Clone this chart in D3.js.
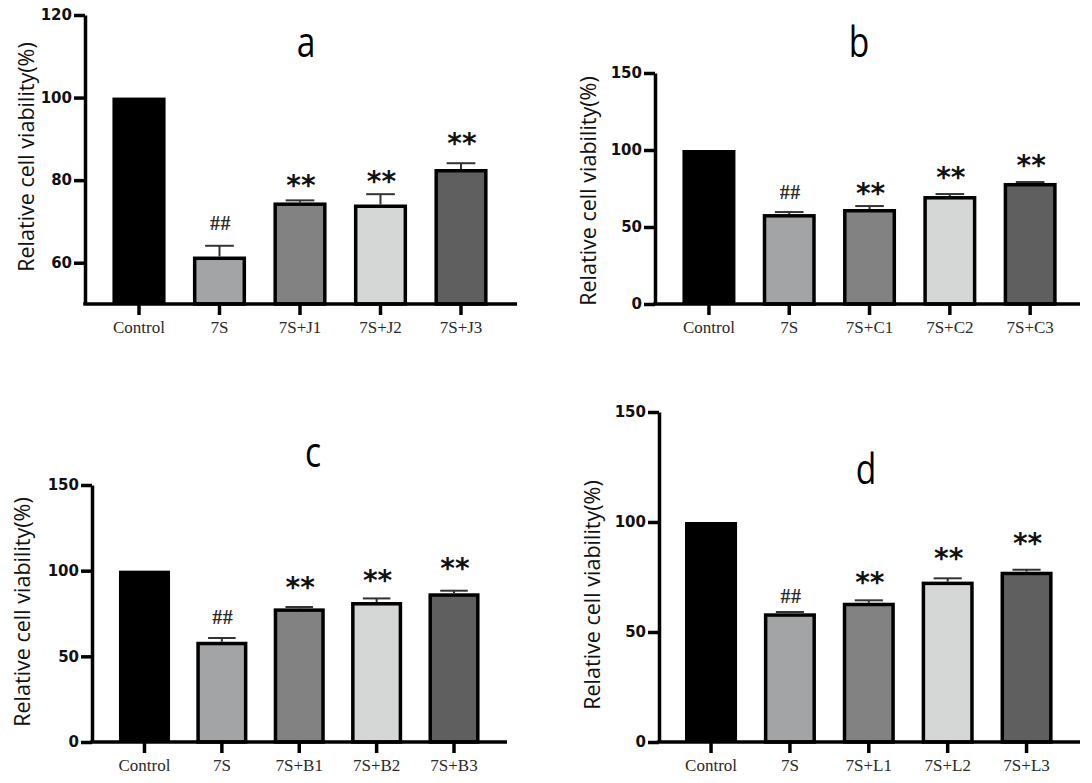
<!DOCTYPE html>
<html>
<head>
<meta charset="utf-8">
<script src="https://cdn.jsdelivr.net/npm/d3@7"></script>
<style>
  body { margin: 0; background: #fff; }
  svg { display: block; }
</style>
</head>
<body>
<svg id="chart" width="1092" height="783"></svg>
<script>
"use strict";

// data
var titles = ["a", "b", "c", "d"];

var catsA = ["Control", "7S", "7S+J1", "7S+J2", "7S+J3"];
var catsB = ["Control", "7S", "7S+C1", "7S+C2", "7S+C3"];
var catsC = ["Control", "7S", "7S+B1", "7S+B2", "7S+B3"];
var catsD = ["Control", "7S", "7S+L1", "7S+L2", "7S+L3"];

var meanA = [100, 61.5, 74.6, 74.1, 82.7];
var meanB = [100, 58.4, 61.7, 70.1, 78.6];
var meanC = [100, 58.5, 78.0, 81.7, 86.8];
var meanD = [100, 58.5, 63.3, 72.9, 77.4];

var sdA = [0, 2.6, 0.5, 2.5, 1.4];
var sdB = [0, 1.3, 1.9, 1.3, 0.6];
var sdC = [0, 2.2, 0.8, 2.1, 1.5];
var sdD = [0, 0.6, 1.1, 1.5, 0.9];

var sigLabels = ["", "##", "**", "**", "**"];
// height (in axis units) where the marks sit
var sigA = [null, 69.5, 79.8, 81.0, 90.2];
var sigB = [null, 72.7, 75.3, 85.1, 92.9];
var sigC = [null, 72.9, 93.3, 97.4, 104.4];
var sigD = [null, 66.4, 74.7, 85.9, 92.7];

var ticksA = [60, 80, 100, 120];
var ticksBCD = [0, 50, 100, 150];

var barColors = ["#000000", "#a2a4a5", "#828282", "#d5d6d6", "#5f5f5f"];

// layout of each panel
var panels = [
  { title: titles[0], cats: catsA, mean: meanA, sd: sdA, sig: sigA, ticks: ticksA, domain: [50, 120],
    axisX: 85, axisEnd: 517, top: 15, base: 304, band: [98.75, 501.25],
    titleX: 306, titleY: 57, labX: 25, labY: 157 },
  { title: titles[1], cats: catsB, mean: meanB, sd: sdB, sig: sigB, ticks: ticksBCD, domain: [0, 150],
    axisX: 655, axisEnd: 1080, top: 73, base: 304, band: [668.8, 1070.3],
    titleX: 859, titleY: 57, labX: 587, labY: 191 },
  { title: titles[2], cats: catsC, mean: meanC, sd: sdC, sig: sigC, ticks: ticksBCD, domain: [0, 150],
    axisX: 92, axisEnd: 507, top: 485, base: 742, band: [105.8, 492.7],
    titleX: 313, titleY: 467, labX: 21, labY: 612 },
  { title: titles[3], cats: catsD, mean: meanD, sd: sdD, sig: sigD, ticks: ticksBCD, domain: [0, 150],
    axisX: 659, axisEnd: 1080, top: 412, base: 742, band: [671.6, 1066],
    titleX: 866, titleY: 484, labX: 591, labY: 595 }
];

var svg = d3.select("#chart");
svg.append("rect").attr("width", 1092).attr("height", 783).attr("fill", "#fff");

panels.forEach(function(p) {
  var g = svg.append("g").attr("class", "panel-" + p.title);

  var y = d3.scaleLinear().domain(p.domain).range([p.base, p.top]);
  var x = d3.scaleBand().domain(p.cats).range(p.band)
    .paddingInner(0.34).paddingOuter(0.17);

  var rows = p.cats.map(function(c, i) {
    return { cat: c, mean: p.mean[i], sd: p.sd[i], sig: sigLabels[i], sigY: p.sig[i], color: barColors[i] };
  });

  // bars
  g.selectAll("rect.bar")
    .data(rows)
    .enter()
    .append("rect")
    .attr("class", "bar")
    .attr("x", function(d) { return x(d.cat) + (d.cat == "Control" ? 0 : 1.75); })
    .attr("width", function(d) { return x.bandwidth() - (d.cat == "Control" ? 0 : 3.5); })
    .attr("y", function(d) { return y(d.mean) + (d.cat == "Control" ? 0 : 1.75); })
    .attr("height", function(d) { return y(p.domain[0]) - y(d.mean) - (d.cat == "Control" ? 0 : 1.75); })
    .attr("fill", function(d) { return d.color; })
    .attr("stroke", "#000")
    .attr("stroke-width", function(d) { return d.cat == "Control" ? 0 : 3.5; });

  // error bars (upper only)
  var err = g.selectAll("g.err")
    .data(rows.filter(function(d) { return d.sd > 0; }))
    .enter()
    .append("g")
    .attr("class", "err")
    .attr("stroke", "#333")
    .attr("stroke-width", 2);
  err.append("line")
    .attr("x1", function(d) { return x(d.cat) + x.bandwidth() / 2; })
    .attr("x2", function(d) { return x(d.cat) + x.bandwidth() / 2; })
    .attr("y1", function(d) { return y(d.mean); })
    .attr("y2", function(d) { return y(d.mean + d.sd); });
  err.append("line")
    .attr("x1", function(d) { return x(d.cat) + x.bandwidth() * 0.23; })
    .attr("x2", function(d) { return x(d.cat) + x.bandwidth() * 0.77; })
    .attr("y1", function(d) { return y(d.mean + d.sd); })
    .attr("y2", function(d) { return y(d.mean + d.sd); });

  // significance marks
  g.selectAll("text.sig")
    .data(rows.filter(function(d) { return d.sig != ""; }))
    .enter()
    .append("text")
    .attr("class", "sig")
    .attr("x", function(d) { return x(d.cat) + x.bandwidth() / 2 + 1; })
    .attr("y", function(d) {
      return d.sig == "##" ? y(d.sigY) + 7 : y(d.sigY) + 14.5;
    })
    .attr("text-anchor", "middle")
    .attr("font-family", function(d) { return d.sig == "##" ? "Liberation Serif" : "DejaVu Sans"; })
    .attr("font-weight", "bold")
    .attr("font-size", function(d) { return d.sig == "##" ? "20px" : "28px"; })
    .attr("letter-spacing", function(d) { return d.sig == "##" ? "0.5px" : "0px"; })
    .attr("fill", function(d) { return d.sig == "##" ? "#2a2a2a" : "#111"; })
    .text(function(d) { return d.sig; });

  // y axis
  var yAxis = g.append("g")
    .attr("transform", "translate(" + p.axisX + ",0)")
    .call(d3.axisLeft(y).tickValues(p.ticks).tickSize(11).tickSizeOuter(0).tickPadding(2));
  yAxis.select(".domain").attr("stroke", "#000").attr("stroke-width", 3.5);
  yAxis.selectAll(".tick line").attr("stroke", "#000").attr("stroke-width", 3.5);
  yAxis.attr("font-family", "DejaVu Sans").attr("font-size", 15).attr("font-weight", "bold");
  yAxis.selectAll(".tick text").attr("fill", "#111");

  // x axis
  var xAxis = g.append("g")
    .attr("transform", "translate(0," + p.base + ")")
    .call(d3.axisBottom(x).tickSize(11).tickSizeOuter(0).tickPadding(6));
  xAxis.select(".domain").remove();
  xAxis.selectAll(".tick line").attr("stroke", "#000").attr("stroke-width", 3.5);
  xAxis.attr("font-family", "Liberation Serif").attr("font-size", 17);
  xAxis.selectAll(".tick text").attr("fill", "#2a2a2a");
  xAxis.append("line")
    .attr("x1", p.axisX - 1.75)
    .attr("x2", p.axisEnd)
    .attr("stroke", "#000")
    .attr("stroke-width", 3.5);

  // axis title
  g.append("text")
    .attr("transform", "translate(" + p.labX + "," + p.labY + ") rotate(-90)")
    .attr("text-anchor", "middle")
    .attr("dominant-baseline", "central")
    .attr("font-family", "Open Sans")
    .attr("font-size", "21.5px")
    .attr("fill", "#111")
    .text("Relative cell viability(%)");

  // panel letter, a narrow face in the original
  g.append("text")
    .attr("transform", "translate(" + p.titleX + "," + p.titleY + ") scale(0.8,1)")
    .attr("text-anchor", "middle")
    .attr("font-family", "Open Sans")
    .attr("font-size", "42px")
    .attr("fill", "#000")
    .text(p.title);
});
</script>
</body>
</html>
